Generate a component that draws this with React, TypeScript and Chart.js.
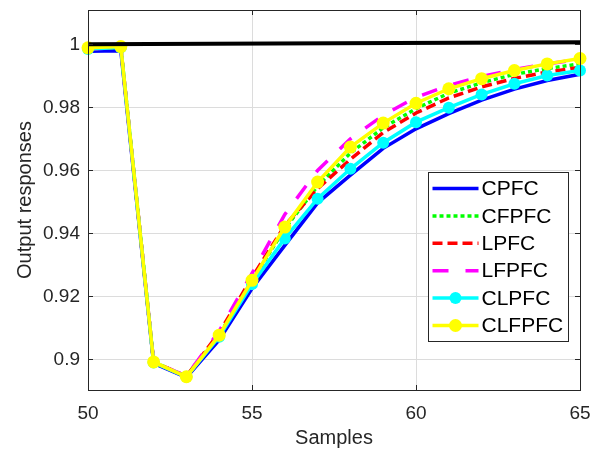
import React, { useEffect, useRef } from "react";
import { Chart, registerables } from "chart.js";

Chart.register(...registerables);

// ---------- data ----------
const samples = [50, 51, 52, 53, 54, 55, 56, 57, 58, 59, 60, 61, 62, 63, 64, 65];
const cpfc = [0.9978, 0.998, 0.8988, 0.8943, 0.9062, 0.9225, 0.9362, 0.9497, 0.9585, 0.967, 0.9732, 0.978, 0.9823, 0.9858, 0.9885, 0.9905];
const cfpfc = [0.9987, 0.9991, 0.8992, 0.8946, 0.9078, 0.925, 0.9415, 0.955, 0.9655, 0.9735, 0.9796, 0.9845, 0.9878, 0.9905, 0.9923, 0.9938];
const lpfc = [0.9985, 0.999, 0.8992, 0.8947, 0.9085, 0.926, 0.9425, 0.9542, 0.9635, 0.972, 0.9782, 0.983, 0.9865, 0.9892, 0.9912, 0.9927];
const lfpfc = [0.9985, 0.999, 0.8992, 0.8947, 0.909, 0.9273, 0.946, 0.96, 0.97, 0.9775, 0.9832, 0.987, 0.9898, 0.992, 0.9938, 0.9953];
const clpfc = [0.9985, 0.999, 0.899, 0.8945, 0.9072, 0.9239, 0.9384, 0.951, 0.9605, 0.9688, 0.9753, 0.9799, 0.9841, 0.9875, 0.9901, 0.9917];
const clfpfc = [0.9989, 0.9993, 0.8992, 0.8945, 0.9077, 0.9251, 0.942, 0.9563, 0.9674, 0.975, 0.9813, 0.9859, 0.9891, 0.9917, 0.9938, 0.9955];
const referenceSamples = [50, 65];
const reference = [1.0, 1.0007];

const seriesNames = ["CPFC", "CFPFC", "LPFC", "LFPFC", "CLPFC", "CLFPFC"];
const xTicks = [50, 55, 60, 65];
const yTicks = [0.9, 0.92, 0.94, 0.96, 0.98, 1];
const xTitle = "Samples";
const yTitle = "Output responses";

const FONT = '"Liberation Sans", Arial, Helvetica, sans-serif';
const AXIS_COLOR = "#262626";

const toPoints = (xs: number[], ys: number[]) => xs.map((x, i) => ({ x, y: ys[i] }));

const boxPlugin = {
  id: "matlabBox",
  beforeDraw(chart: any) {
    const { ctx, width, height } = chart;
    ctx.save();
    ctx.fillStyle = "#ffffff";
    ctx.fillRect(0, 0, width, height);
    ctx.restore();
  },
  afterDatasetsDraw(chart: any) {
    const { ctx, chartArea: a, scales } = chart;
    ctx.save();
    ctx.strokeStyle = AXIS_COLOR;
    ctx.lineWidth = 1;
    ctx.strokeRect(Math.round(a.left) + 0.5, Math.round(a.top) + 0.5, Math.round(a.right - a.left), Math.round(a.bottom - a.top));
    const tl = 5;
    ctx.beginPath();
    xTicks.forEach((v) => {
      const px = Math.round(scales.x.getPixelForValue(v)) + 0.5;
      ctx.moveTo(px, a.bottom);
      ctx.lineTo(px, a.bottom - tl);
      ctx.moveTo(px, a.top);
      ctx.lineTo(px, a.top + tl);
    });
    yTicks.forEach((v) => {
      const py = Math.round(scales.y.getPixelForValue(v)) + 0.5;
      ctx.moveTo(a.left, py);
      ctx.lineTo(a.left + tl, py);
      ctx.moveTo(a.right, py);
      ctx.lineTo(a.right - tl, py);
    });
    ctx.stroke();
    ctx.restore();
  },
};

const legendPlugin = {
  id: "insideLegend",
  afterDraw(chart: any) {
    const { ctx, chartArea: a } = chart;
    const items = chart.data.datasets.filter((d: any) => d.inLegend);
    const boxW = 140;
    const rowH = 27.4;
    const boxH = 169;
    const bx = Math.round(a.right - 12 - boxW) + 0.5;
    const by = Math.round(a.top + 162) + 0.5;
    ctx.save();
    ctx.fillStyle = "#ffffff";
    ctx.fillRect(bx, by, boxW, boxH);
    ctx.strokeStyle = "#262626";
    ctx.lineWidth = 1;
    ctx.strokeRect(bx, by, boxW, boxH);
    items.forEach((d: any, i: number) => {
      const cy = by + 16 + i * rowH;
      const x0 = bx + 4;
      const x1 = bx + 50;
      ctx.save();
      ctx.strokeStyle = d.borderColor;
      ctx.lineWidth = d.borderWidth;
      ctx.setLineDash(d.borderDash || []);
      ctx.lineCap = "butt";
      ctx.beginPath();
      ctx.moveTo(x0, cy);
      ctx.lineTo(x1, cy);
      ctx.stroke();
      ctx.setLineDash([]);
      if (d.pointRadius > 0) {
        ctx.fillStyle = d.pointBackgroundColor;
        ctx.beginPath();
        ctx.arc((x0 + x1) / 2, cy, d.pointRadius, 0, Math.PI * 2);
        ctx.fill();
      }
      ctx.restore();
      ctx.fillStyle = "#000000";
      ctx.font = `21px ${FONT}`;
      ctx.textAlign = "left";
      ctx.textBaseline = "middle";
      ctx.fillText(d.label, x1 + 3, cy + 1);
    });
    ctx.restore();
  },
};

export default function App() {
  const canvasRef = useRef<HTMLCanvasElement | null>(null);

  useEffect(() => {
    if (!canvasRef.current) return;
    const line = (label: string, ys: number[], color: string, width: number, dash: number[], radius: number, order: number) => ({
      label,
      data: toPoints(samples, ys),
      borderColor: color,
      backgroundColor: color,
      borderWidth: width,
      borderDash: dash,
      pointRadius: radius,
      pointHoverRadius: radius,
      pointBackgroundColor: color,
      pointBorderColor: color,
      pointBorderWidth: 0,
      tension: 0,
      fill: false,
      clip: false,
      order,
      inLegend: true,
    });
    const chart = new Chart(canvasRef.current, {
      type: "line",
      data: {
        datasets: [
          line(seriesNames[0], cpfc, "#0000ff", 3.5, [], 0, 6),
          line(seriesNames[1], cfpfc, "#00ff00", 3.5, [4, 3], 0, 5),
          line(seriesNames[2], lpfc, "#ff0000", 3.5, [10, 5], 0, 4),
          line(seriesNames[3], lfpfc, "#ff00ff", 3.5, [16, 17], 0, 3),
          line(seriesNames[4], clpfc, "#00ffff", 3.5, [], 6, 2),
          line(seriesNames[5], clfpfc, "#ffff00", 3.5, [], 6.5, 1),
          {
            label: "Reference",
            data: toPoints(referenceSamples, reference),
            borderColor: "#000000",
            borderWidth: 4,
            pointRadius: 0,
            tension: 0,
            fill: false,
            clip: false,
            order: 0,
            inLegend: false,
          } as any,
        ],
      },
      options: {
        responsive: false,
        animation: false,
        devicePixelRatio: 1,
        events: [],
        layout: { padding: { left: 0, top: 10, right: 10, bottom: 0 } },
        plugins: {
          legend: { display: false },
          tooltip: { enabled: false },
          title: { display: false },
        },
        scales: {
          x: {
            type: "linear",
            min: 50,
            max: 65,
            afterBuildTicks: (scale: any) => {
              scale.ticks = xTicks.map((v) => ({ value: v }));
            },
            afterFit: (scale: any) => {
              scale.height = 62;
              scale.paddingLeft = 0;
              scale.paddingRight = 0;
            },
            grid: { color: "#dcdcdc", lineWidth: 1, drawTicks: false },
            border: { display: false },
            ticks: {
              color: AXIS_COLOR,
              font: { family: FONT, size: 19 },
              padding: 12,
              maxRotation: 0,
              autoSkip: false,
              callback: (v: any) => String(v),
            },
            title: {
              display: true,
              text: xTitle,
              color: AXIS_COLOR,
              font: { family: FONT, size: 20, lineHeight: 1.2 },
              padding: { top: 0, bottom: 2 },
            },
          },
          y: {
            type: "linear",
            min: 0.8903,
            max: 1.0109,
            afterBuildTicks: (scale: any) => {
              scale.ticks = yTicks.map((v) => ({ value: v }));
            },
            afterFit: (scale: any) => {
              scale.width = 88;
              scale.paddingTop = 0;
              scale.paddingBottom = 0;
            },
            grid: { color: "#dcdcdc", lineWidth: 1, drawTicks: false },
            border: { display: false },
            ticks: {
              color: AXIS_COLOR,
              font: { family: FONT, size: 19 },
              padding: 8,
              autoSkip: false,
              callback: (v: any) => String(Number(Number(v).toFixed(2))),
            },
            title: {
              display: true,
              text: yTitle,
              color: AXIS_COLOR,
              font: { family: FONT, size: 20, lineHeight: 1.2 },
              padding: { top: 13, bottom: 0 },
            },
          },
        },
      } as any,
      plugins: [boxPlugin, legendPlugin],
    });
    return () => chart.destroy();
  }, []);

  return (
    <div style={{ position: "absolute", left: 0, top: 0, width: 590, height: 452, background: "#ffffff" }}>
      <canvas ref={canvasRef} width={590} height={452} style={{ display: "block", width: 590, height: 452 }} />
    </div>
  );
}
